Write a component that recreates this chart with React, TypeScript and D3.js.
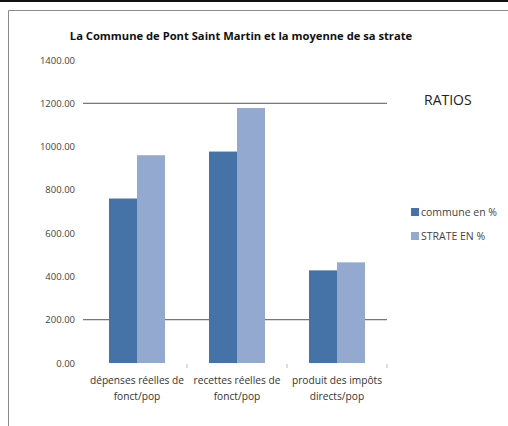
import React from 'react'
import * as d3 from 'd3'

const categories = [
  ['dépenses réelles de', 'fonct/pop'],
  ['recettes réelles de', 'fonct/pop'],
  ['produit des impôts', 'directs/pop'],
]
const seriesNames = ['commune en %', 'STRATE EN %']
const commune = [760, 977, 428]
const strate = [960, 1178, 465]
const yTicks = [0, 200, 400, 600, 800, 1000, 1200, 1400]
const gridValues = [200, 1200]
const colors = ['#4572A7', '#93A9CF']

const W = 508
const H = 426
const font = '"Open Sans", "Liberation Sans", sans-serif'

export default function App() {
  const x = d3
    .scaleBand<number>()
    .domain(categories.map((_, i) => i))
    .range([87, 387])
  const inner = d3
    .scaleBand<number>()
    .domain([0, 1])
    .range([0, x.bandwidth()])
    .paddingOuter(0.786)
  const y = d3.scaleLinear().domain([0, 1400]).range([363, 60])
  const series = [commune, strate]

  return (
    <svg
      width={W}
      height={H}
      style={{ position: 'absolute', left: 0, top: 0, background: '#fff' }}
      fontFamily={font}
    >
      <rect x={0} y={0} width={W} height={2} fill="#111" />
      <path d={`M8.5,${H} V10.5 H${W}`} fill="none" stroke="#8a8a8a" strokeWidth={1} />

      <text x={241} y={40} textAnchor="middle" fontSize={11.2} fontWeight="bold" fill="#111">
        La Commune de Pont Saint Martin et la moyenne de sa strate
      </text>

      {gridValues.map((v) => (
        <line key={v} x1={83} x2={387} y1={y(v)} y2={y(v)} stroke="#555" strokeWidth={1} />
      ))}

      {yTicks.map((v) => (
        <text key={v} x={75} y={y(v) + 3.5} textAnchor="end" fontSize={9.5} fill="#444">
          {v.toFixed(2)}
        </text>
      ))}

      {series.map((vals, s) =>
        vals.map((v, i) => (
          <rect
            key={`${s}-${i}`}
            x={(x(i) ?? 0) + (inner(s) ?? 0)}
            y={y(v)}
            width={inner.bandwidth()}
            height={y(0) - y(v)}
            fill={colors[s]}
          />
        ))
      )}

      {categories.map((_, i) => {
        const xe = (x(i) ?? 0) + x.bandwidth()
        return <line key={i} x1={xe} x2={xe} y1={364} y2={368} stroke="#bbb" />
      })}

      {categories.map((lines, i) => (
        <text
          key={i}
          x={(x(i) ?? 0) + x.bandwidth() / 2}
          textAnchor="middle"
          fontSize={10.2}
          fill="#333"
        >
          {lines.map((l, j) => (
            <tspan key={j} x={(x(i) ?? 0) + x.bandwidth() / 2} y={384 + j * 16}>
              {l}
            </tspan>
          ))}
        </text>
      ))}

      <text x={424} y={105} fontSize={14} fill="#222">
        RATIOS
      </text>

      {seriesNames.map((n, s) => (
        <g key={n} transform={`translate(411,${208 + s * 24})`}>
          <rect width={8} height={8} fill={colors[s]} />
          <text x={10} y={7.5} fontSize={10.5} fill="#444">
            {n}
          </text>
        </g>
      ))}
    </svg>
  )
}
